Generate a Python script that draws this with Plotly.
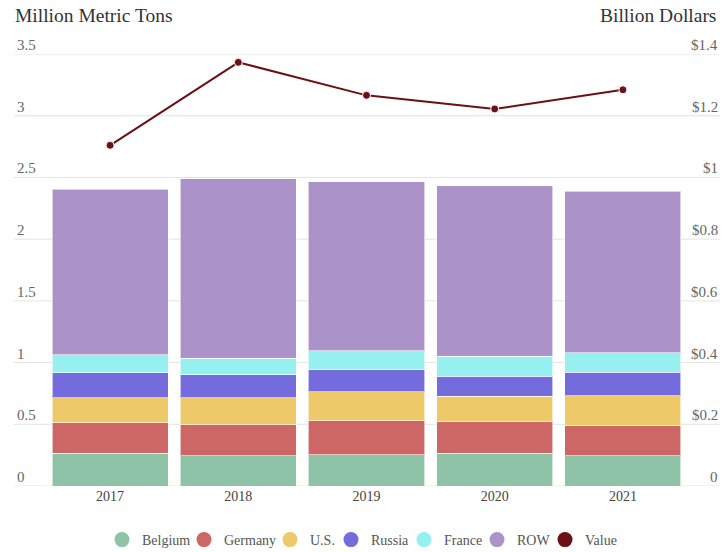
import plotly.graph_objects as go

years = ["2017", "2018", "2019", "2020", "2021"]

# million metric tons, stacked
belgium = [0.267, 0.246, 0.254, 0.267, 0.246]
germany = [0.247, 0.252, 0.276, 0.252, 0.246]
us = [0.202, 0.218, 0.232, 0.210, 0.241]
russia = [0.200, 0.184, 0.181, 0.162, 0.188]
france = [0.149, 0.135, 0.151, 0.160, 0.157]
row = [1.339, 1.453, 1.370, 1.383, 1.310]

# billion dollars
value = [1.104, 1.373, 1.266, 1.222, 1.284]

left_ticks = [0, 0.5, 1, 1.5, 2, 2.5, 3, 3.5]
left_labels = ["0", "0.5", "1", "1.5", "2", "2.5", "3", "3.5"]
right_labels = ["0", "$0.2", "$0.4", "$0.6", "$0.8", "$1", "$1.2", "$1.4"]

series = [
    ("Belgium", belgium, "#8fc3a7"),
    ("Germany", germany, "#cc6766"),
    ("U.S.", us, "#eec96a"),
    ("Russia", russia, "#746bdc"),
    ("France", france, "#97f0f0"),
    ("ROW", row, "#ab92c8"),
]
value_color = "#6b1015"

# legend circle centres (px from left edge of the plot area)
legend_px = [75, 157, 243, 304, 377, 450, 518]

FONT = "Times New Roman, Liberation Serif, serif"
PLOT_W = 728 - 46 - 41

fig = go.Figure()

for name, vals, col in series:
    fig.add_trace(go.Bar(
        x=years, y=vals, name=name, showlegend=False,
        marker=dict(color=col, line=dict(color="rgba(255,255,255,0.6)", width=1)),
    ))

fig.add_trace(go.Scatter(
    x=years, y=value, name="Value", yaxis="y2", showlegend=False,
    mode="lines+markers",
    line=dict(color=value_color, width=2),
    marker=dict(size=8, color=value_color, line=dict(color="white", width=1)),
))

# legend entries drawn as circles, each in its own legend box
legends = {}
for i, (name, col) in enumerate([(s[0], s[2]) for s in series] + [("Value", value_color)]):
    key = "legend" if i == 0 else f"legend{i + 1}"
    fig.add_trace(go.Scatter(
        x=[None], y=[None], mode="markers", name=name, legend=key,
        marker=dict(size=15, color=col, symbol="circle"),
    ))
    legends[key] = dict(orientation="h", x=(legend_px[i] - 19) / PLOT_W,
                        xanchor="left", yref="container", y=(552 - 540) / 552,
                        yanchor="middle", bgcolor="rgba(0,0,0,0)",
                        font=dict(size=14, color="#555"))

# gridlines running under the tick labels
shapes = []
for t in left_ticks:
    shapes.append(dict(type="line", xref="paper", yref="y", x0=-0.05, x1=1.052,
                       y0=t, y1=t, line=dict(color="#e3e3e3", width=1), layer="below"))

annotations = []
for t, lab, rlab in zip(left_ticks, left_labels, right_labels):
    annotations.append(dict(x=-0.048, y=t, xref="paper", yref="y", text=lab,
                            showarrow=False, xanchor="left", yanchor="bottom",
                            yshift=-1, font=dict(size=15, color="#666", family=FONT)))
    annotations.append(dict(x=1.0515, y=t, xref="paper", yref="y", text=rlab,
                            showarrow=False, xanchor="right", yanchor="bottom",
                            yshift=-1, font=dict(size=15, color="#666", family=FONT)))

annotations.append(dict(x=-0.052, y=1.088, xref="paper", yref="paper",
                        text="Million Metric Tons", showarrow=False,
                        xanchor="left", yanchor="middle",
                        font=dict(size=19.5, color="#333", family=FONT)))
annotations.append(dict(x=1.049, y=1.088, xref="paper", yref="paper",
                        text="Billion Dollars", showarrow=False,
                        xanchor="right", yanchor="middle",
                        font=dict(size=19.5, color="#333", family=FONT)))

fig.update_layout(
    width=728, height=552,
    margin=dict(l=46, r=41, t=54, b=66),
    barmode="stack", bargap=0.095,
    plot_bgcolor="white", paper_bgcolor="white",
    font=dict(family=FONT, size=14, color="#444"),
    xaxis=dict(showgrid=False, showline=False, ticks="",
               tickfont=dict(size=14, color="#444")),
    yaxis=dict(range=[0, 3.5], showgrid=False, zeroline=False,
               showticklabels=False),
    yaxis2=dict(range=[0, 1.4], overlaying="y", side="right", showgrid=False,
                zeroline=False, showticklabels=False),
    shapes=shapes,
    annotations=annotations,
    **legends,
)

fig.write_html("out.html", config={"displayModeBar": False},
               post_script="document.body.style.margin='0';")
